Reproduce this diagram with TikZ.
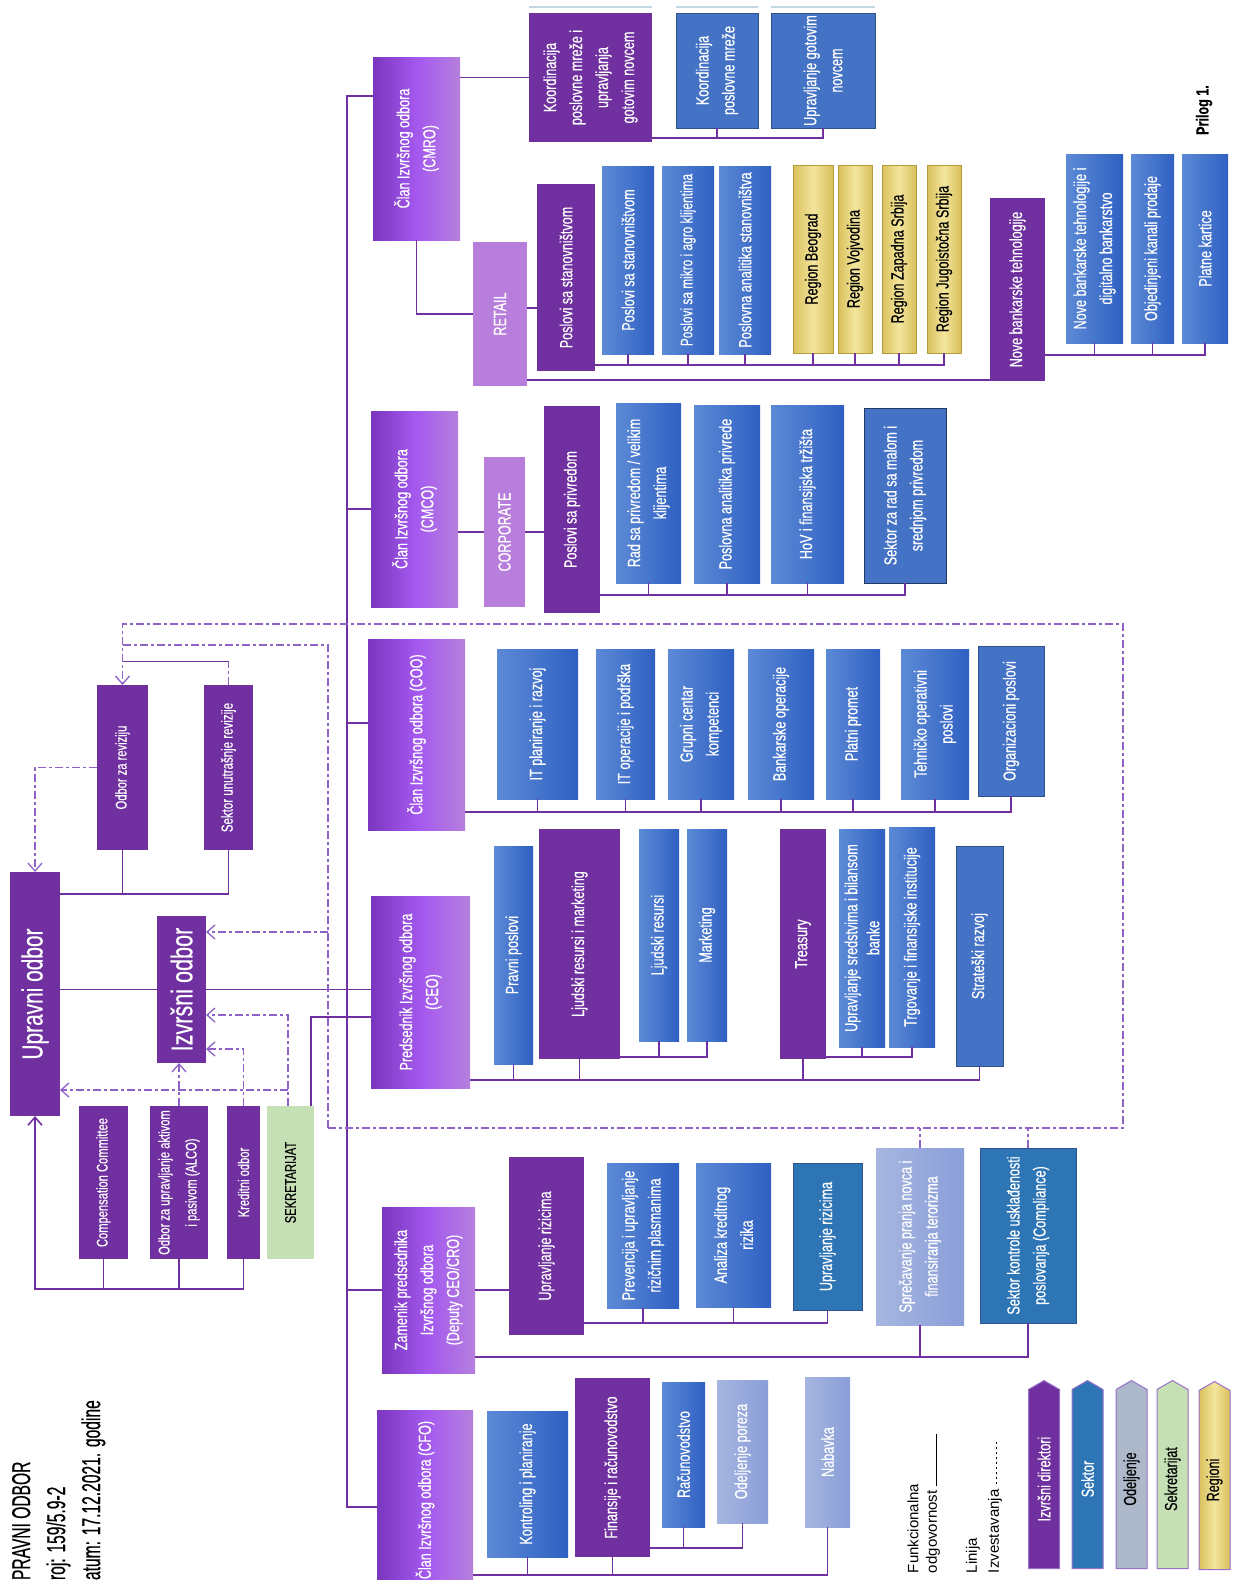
\documentclass[tikz,border=0pt]{standalone}
\usepackage{fontspec}
\setmainfont{Liberation Sans}[FakeStretch=0.72, FakeBold=0.35]
\newfontfamily\hdrfont{Liberation Sans}[FakeStretch=0.6, FakeBold=0.4]
\newfontfamily\legfont{Liberation Sans}
\usetikzlibrary{arrows.meta, calc, shapes.symbols}
\definecolor{clanL}{HTML}{7A36BE}
\definecolor{clanM}{HTML}{A458EE}
\definecolor{clanR}{HTML}{B580DE}
\definecolor{dirpur}{HTML}{7030A0}
\definecolor{sekL}{HTML}{5C8AD6}
\definecolor{sekR}{HTML}{2F60C2}
\definecolor{sekblue}{HTML}{4472C4}
\definecolor{sekteal}{HTML}{2E75B6}
\definecolor{sekedge}{HTML}{2F528F}
\definecolor{odeL}{HTML}{A6B6E0}
\definecolor{odeR}{HTML}{8A9ED8}
\definecolor{regA}{HTML}{D9C05C}
\definecolor{regB}{HTML}{F3E59C}
\definecolor{regedge}{HTML}{B59A3A}
\definecolor{lightpur}{HTML}{B77EDB}
\definecolor{sekrgreen}{HTML}{C5E0B4}
\definecolor{odjgray}{HTML}{ADB9CA}
\definecolor{conpur}{HTML}{7030A0}
\definecolor{reppur}{HTML}{8E62C6}
\definecolor{legedge}{HTML}{9A6FC8}
\definecolor{toplin}{HTML}{C4D6E2}

\begin{document}
\begin{tikzpicture}[x=1pt, y=-1pt, >={Straight Barb[length=8pt,width=14pt]},
    box/.style={rotate=90, inner sep=1pt, outer sep=0pt, align=center, text=white,
                font=\fontsize{17.5}{26}\selectfont},
    wh/.style 2 args={minimum height=#1, minimum width=#2},
    clan/.style={box, left color=clanL, right color=clanR, middle color=clanM},
    dir/.style={box, fill=dirpur},
    sekt/.style={box, left color=sekL, right color=sekR},
    sektd/.style={box, fill=sekblue, draw=sekedge, line width=0.8pt},
    odel/.style={box, left color=odeL, right color=odeR},
    regn/.style={box, text=black, draw=regedge, line width=0.8pt,
                 left color=regA, right color=regA, middle color=regB},
    lpur/.style={box, fill=lightpur},
    con/.style={draw=conpur, line width=1.6pt},
    rep/.style={draw=reppur, line width=1.3pt, dash pattern=on 8pt off 3pt on 3pt off 3pt},
    txt/.style={rotate=90, inner sep=0pt, outer sep=0pt},
    lgd/.style={rotate=90, shape=signal, signal to=east, signal from=nowhere,
                signal pointer angle=120, draw=legedge, line width=1pt, inner sep=1pt,
                wh={31}{188}, font=\fontsize{17.5}{20}\selectfont}]

  \fill[white] (0,0) rectangle (1233,1580);
  \useasboundingbox (0,0) rectangle (1233,1580);

  % board, committees
  \node[dir, wh={50}{244}, font=\fontsize{29}{31}\selectfont] (upr) at (35,994) {Upravni odbor};
  \node[dir, wh={49}{147}, font=\fontsize{30}{32}\selectfont] (izv) at (181.5,989.5) {Izvršni odbor};
  \node[dir, wh={51}{165}, font=\fontsize{15.5}{24}\selectfont] (odr) at (122.5,767.5) {Odbor za reviziju};
  \node[dir, wh={49}{165}, font=\fontsize{16}{24}\selectfont] (sur) at (228.5,767.5) {Sektor unutrašnje revizije};
  \node[dir, wh={49}{153}, font=\fontsize{15.5}{24}\selectfont] (com) at (103.5,1182.5) {Compensation Committee};
  \node[dir, wh={58}{153}, font=\fontsize{15.5}{27}\selectfont] (alc) at (179,1182.5) {Odbor za upravljanje aktivom\\i pasivom (ALCO)};
  \node[dir, wh={33}{153}, font=\fontsize{15.5}{24}\selectfont] (kre) at (243.5,1182.5) {Kreditni odbor};
  \node[box, fill=sekrgreen, text=black, wh={47}{153}, font=\fontsize{15.5}{24}\selectfont] (sek) at (290.5,1182.5) {SEKRETARIJAT};

  % CMRO
  \node[clan, wh={87}{183}] (cmro) at (416.5,148.5) {Član Izvršnog odbora\\(CMRO)};
  \node[dir, wh={123}{129}] (kpm) at (590.5,77.5) {Koordinacija\\poslovne mreže i\\upravljanja\\gotovim novcem};
  \node[sektd, wh={82}{115}] (kpm2) at (717,70.5) {Koordinacija\\poslovne mreže};
  \node[sektd, wh={104}{115}] (ugn) at (823,70.5) {Upravljanje gotovim\\novcem};

  % RETAIL
  \node[lpur, wh={54}{144}] (ret) at (500,314) {RETAIL};
  \node[dir, wh={58}{187}] (psp) at (566,277.5) {Poslovi sa stanovništvom};
  \node[sekt, wh={52}{188}] (pss) at (628,260) {Poslovi sa stanovništvom};
  \node[sekt, wh={52}{188}, font=\fontsize{16.5}{26}\selectfont] (pma) at (688,260) {Poslovi sa mikro i agro klijentima};
  \node[sekt, wh={52}{188}] (pas) at (745,260) {Poslovna analitika stanovništva};
  \node[regn, wh={40}{188}] (rbg) at (813,259) {Region Beograd};
  \node[regn, wh={34}{188}] (rvo) at (855,259) {Region Vojvodina};
  \node[regn, wh={34}{188}] (rzs) at (899,259) {Region Zapadna Srbija};
  \node[regn, wh={34}{188}] (rjs) at (944,259) {Region Jugoistočna Srbija};
  \node[dir, wh={55}{183}] (nbt) at (1017.5,289.5) {Nove bankarske tehnologije};
  \node[sekt, wh={57}{189}] (ndb) at (1094.5,248.5) {Nove bankarske tehnologije i\\digitalno bankarstvo};
  \node[sekt, wh={43}{189}] (okp) at (1152.5,248.5) {Objedinjeni kanali prodaje};
  \node[sekt, wh={46}{189}] (pkr) at (1205,248.5) {Platne kartice};

  % CMCO
  \node[clan, wh={87}{196}] (cmco) at (414.5,509) {Član Izvršnog odbora\\(CMCO)};
  \node[lpur, wh={41}{150}] (corp) at (504.5,532) {CORPORATE};
  \node[dir, wh={56}{207}] (psr) at (572,509.5) {Poslovi sa privredom};
  \node[sekt, wh={65}{180}] (rsp) at (648.5,493) {Rad sa privredom / velikim\\klijentima};
  \node[sekt, wh={66}{178}] (pap) at (727,494) {Poslovna analitika privrede};
  \node[sekt, wh={73}{178}] (hov) at (807.5,494) {HoV i finansijska tržišta};
  \node[sektd, draw=sekedge!70!black, wh={82}{175}] (smp) at (905,495.5) {Sektor za rad sa malom i\\srednjom privredom};

  % COO
  \node[clan, wh={97}{191}] (coo) at (416.5,734.5) {Član Izvršnog odbora (COO)};
  \node[sekt, wh={81}{150}] (itp) at (537.5,724) {IT planiranje i razvoj};
  \node[sekt, wh={59}{150}] (ito) at (625.5,724) {IT operacije i podrška};
  \node[sekt, wh={66}{150}] (gck) at (701,724) {Grupni centar\\kompetenci};
  \node[sekt, wh={66}{150}] (bop) at (781,724) {Bankarske operacije};
  \node[sekt, wh={54}{150}] (ppr) at (853,724) {Platni promet};
  \node[sekt, wh={68}{150}] (tos) at (935,724) {Tehničko operativni\\poslovi};
  \node[sektd, wh={66}{150}] (orp) at (1011,721) {Organizacioni poslovi};

  % CEO
  \node[clan, wh={99}{192}] (ceo) at (420.5,992) {Predsednik Izvršnog odbora\\(CEO)};
  \node[sekt, wh={39}{218}] (prp) at (513.5,955) {Pravni poslovi};
  \node[dir, wh={81}{230}] (lrm) at (579.5,944) {Ljudski resursi i marketing};
  \node[sekt, wh={40}{212}] (ljr) at (659,935) {Ljudski resursi};
  \node[sekt, wh={40}{212}] (mkt) at (707,935) {Marketing};
  \node[dir, wh={46}{230}] (trs) at (803,944) {Treasury};
  \node[sekt, wh={46}{218}, font=\fontsize{17.5}{22}\selectfont] (uss) at (862,938) {Upravljanje sredstvima i bilansom\\banke};
  \node[sekt, wh={46}{220}] (tfi) at (912,937) {Trgovanje i finansijske institucije};
  \node[sektd, wh={47}{220}] (str) at (979.5,956) {Strateški razvoj};

  % Deputy CEO
  \node[clan, wh={93}{166}] (dep) at (428.5,1290) {Zamenik predsednika\\Izvršnog odbora\\(Deputy CEO/CRO)};
  \node[dir, wh={75}{178}] (urz) at (546.5,1246) {Upravljanje rizicima};
  \node[sekt, wh={72}{145}] (pur) at (643,1235.5) {Prevencija i upravljanje\\rizičnim plasmanima};
  \node[sekt, wh={75}{144}] (akr) at (733.5,1235) {Analiza kreditnog\\rizika};
  \node[sektd, fill=sekteal, wh={69}{147}] (urs) at (827.5,1236.5) {Upravljanje rizicima};
  \node[odel, wh={88}{177}] (spn) at (920,1236.5) {Sprečavanje pranja novca i\\finansiranja terorizma};
  \node[sektd, fill=sekteal, wh={96}{175}] (skp) at (1028,1235.5) {Sektor kontrole usklađenosti\\poslovanja (Compliance)};

  % CFO
  \node[clan, wh={96}{180}] (cfo) at (425,1500) {Član Izvršnog odbora (CFO)};
  \node[sekt, wh={81}{146}] (kip) at (527.5,1484) {Kontroling i planiranje};
  \node[dir, wh={75}{179}] (fir) at (612.5,1467.5) {Finansije i računovodstvo};
  \node[sekt, wh={43}{145}] (rac) at (683.5,1454.5) {Računovodstvo};
  \node[odel, wh={51}{143}] (odp) at (742.5,1451.5) {Odeljenje poreza};
  \node[odel, wh={45}{150}] (nab) at (827.5,1452) {Nabavka};

  % bus levels
  \coordinate (trunk) at (347,0);
  \coordinate (bkpm) at (0,138);
  \coordinate (bret1) at (0,365);
  \coordinate (bret2) at (0,380);
  \coordinate (bnbt) at (0,355);
  \coordinate (bcor) at (0,595);
  \coordinate (bcoo) at (0,812);
  \coordinate (bceo) at (0,1080);
  \coordinate (blrm) at (0,1057);
  \coordinate (burz) at (0,1323);
  \coordinate (bdep) at (0,1357);
  \coordinate (bfir) at (0,1548);
  \coordinate (bcfo) at (0,1575);
  \coordinate (bupr) at (0,894);
  \coordinate (bcom) at (0,1289);

  % functional lines
  \draw[con] (cmro.north |- 0,96) -| (trunk |- 0,1507) -- (cfo.north |- 0,1507);
  \draw[con] (trunk |- cmco.north) -- (cmco.north);
  \draw[con] (trunk |- 0,723) -- (coo.north |- 0,723);
  \draw[con] (trunk |- dep.north) -- (dep.north);
  \draw[con] (izv.south) -- (izv.south -| ceo.north);
  \draw[con] (311,0 |- sek.east) |- (ceo.north |- 0,1017);

  \draw[con] (upr.south |- bupr) -| (sur.west);
  \draw[con] (odr.west) -- (odr.west |- bupr);
  \draw[con] (upr.south |- izv.north) -- (izv.north);
  \draw[con, ->] (kre.west) |- (upr.west |- bcom) -- (upr.west);
  \foreach \n in {com,alc} \draw[con] (\n.west) -- (\n.west |- bcom);

  \draw[con] (cmro.south |- kpm.north) -- (kpm.north);
  \draw[con] (kpm.south |- bkpm) -| (ugn.west);
  \draw[con] (kpm2.west) -- (kpm2.west |- bkpm);
  \foreach \n in {kpm,kpm2,ugn}
    \draw[toplin, line width=1.5pt] ($(\n.north east)+(0,-6)$) -- ($(\n.south east)+(0,-6)$);

  \draw[con] (cmro.west) |- (ret.north);
  \draw[con] (ret.south |- 0,308) -- (psp.north |- 0,308);
  \draw[con] (psp.south |- bret1) -| (rjs.west);
  \foreach \n in {pss,pma,pas,rbg,rvo,rzs} \draw[con] (\n.west) -- (\n.west |- bret1);
  \draw[con] (ret.south |- bret2) -- (nbt.north |- bret2);
  \draw[con] (nbt.south |- bnbt) -| (pkr.west);
  \foreach \n in {ndb,okp} \draw[con] (\n.west) -- (\n.west |- bnbt);

  \draw[con] (cmco.south |- corp.north) -- (corp.north);
  \draw[con] (corp.south) -- (corp.south -| psr.north);
  \draw[con] (psr.south |- bcor) -| (smp.west);
  \foreach \n in {rsp,pap,hov} \draw[con] (\n.west) -- (\n.west |- bcor);

  \draw[con] (coo.south |- bcoo) -| (orp.west);
  \foreach \n in {itp,ito,gck,bop,ppr,tos} \draw[con] (\n.west) -- (\n.west |- bcoo);

  \draw[con] (ceo.south |- bceo) -| (str.west);
  \foreach \n in {prp,lrm,trs} \draw[con] (\n.west) -- (\n.west |- bceo);
  \draw[con] (lrm.south |- blrm) -| (mkt.west);
  \draw[con] (ljr.west) -- (ljr.west |- blrm);
  \draw[con] (trs.south |- blrm) -| (tfi.west);
  \draw[con] (uss.west) -- (uss.west |- blrm);

  \draw[con] (dep.south) -- (dep.south -| urz.north);
  \draw[con] (urz.south |- burz) -| (urs.west);
  \foreach \n in {pur,akr} \draw[con] (\n.west) -- (\n.west |- burz);
  \draw[con] (dep.south |- bdep) -| (skp.west);
  \draw[con] (spn.west) -- (spn.west |- bdep);

  \draw[con] (fir.south |- bfir) -| (odp.west);
  \draw[con] (rac.west) -- (rac.west |- bfir);
  \draw[con] (cfo.south |- bcfo) -| (nab.west);
  \foreach \n in {kip,fir} \draw[con] (\n.west) -- (\n.west |- bcfo);

  % reporting lines
  \coordinate (fl) at (328,1128);
  \coordinate (fr) at (1123,1128);
  \coordinate (ft) at (1123,624);
  \coordinate (sekup) at (288,1090);
  \draw[rep] (spn.east) -- (spn.east |- fl);
  \draw[rep] (skp.east) -- (skp.east |- fl);
  \draw[rep, ->] (fl) -- (fr) -- (ft) -- (ft -| odr.east) -- (odr.east);
  \draw[rep] (fl) -- (fl |- 0,645) -- (odr.east |- 0,645);
  \draw[rep, ->] (fl |- 0,932) -- (izv.south |- 0,932);
  \draw[rep] (sur.east) -- (sur.east |- 0,661);
  \draw[con, line width=1pt] (sur.east |- 0,661) -- (odr.east |- 0,661);
  \draw[rep, ->] (odr.north) -| (upr.east);
  \draw[rep, ->] (288,0 |- sek.east) |- (izv.south |- 0,1015);
  \draw[rep, ->] (sekup) -- (upr.south |- sekup);
  \draw[rep, ->] (kre.east) |- (izv.south |- 0,1049);
  \draw[rep, ->] (alc.east) -- (alc.east |- izv.west);

  % header
  \node[txt, anchor=north west, align=left, font=\hdrfont\fontsize{26}{35}\selectfont] (hdr) at (12,1580)
    {PRAVNI ODBOR\\roj: 159/5.9-2\\atum: 17.12.2021. godine};
  \node[txt, font=\bfseries\fontsize{17.5}{18}\selectfont] (pril) at (1204,110) {Prilog 1.};

  % legend
  \node[txt, anchor=west, font=\legfont\fontsize{15}{17}\selectfont] (lfun) at (913,1573) {Funkcionalna};
  \node[txt, anchor=west, font=\legfont\fontsize{15}{17}\selectfont] (lodg) at (933,1573) {odgovornost};
  \node[txt, anchor=west, font=\legfont\fontsize{15}{17}\selectfont] (llin) at (973,1573) {Linija};
  \node[txt, anchor=west, font=\legfont\fontsize{15}{17}\selectfont] (lizv) at (995,1573) {Izvestavanja};
  \draw[black, line width=1pt] ($(lodg.base east)+(0,-4)$) -- ++(0,-52);
  \draw[black, line width=1.3pt, dash pattern=on 2pt off 3pt] ($(lizv.mid east)+(0,-6)$) -- ++(0,-44);

  \node[lgd, fill=dirpur, text=white] (ld1) at (1044,1479) {Izvršni direktori};
  \node[lgd, fill=sekteal, text=white] (ld2) at (1087.5,1479) {Sektor};
  \node[lgd, fill=odjgray, text=black] (ld3) at (1131.5,1479) {Odeljenje};
  \node[lgd, fill=sekrgreen, text=black] (ld4) at (1172.5,1479) {Sekretarijat};
  \node[lgd, left color=regA, right color=regA, middle color=regB, text=black] (ld5) at (1214.5,1480) {Regioni};
\end{tikzpicture}
\end{document}
